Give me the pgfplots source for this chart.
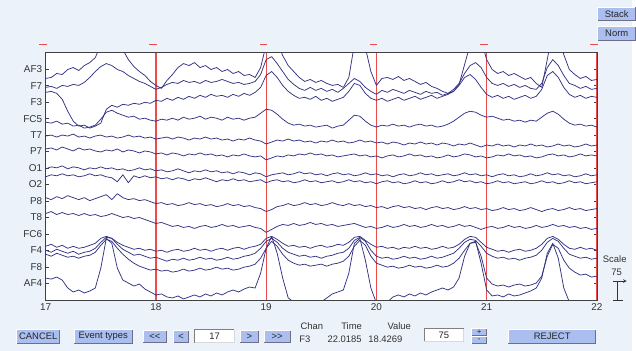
\documentclass[border=0pt]{standalone}
\usepackage{pgfplots}
\pgfplotsset{compat=1.18}
\usepackage{pgfplotstable}
\usepackage{fontspec}
\setmainfont{Liberation Sans}
\definecolor{bg}{RGB}{235,242,250}
\definecolor{btnfill}{RGB}{170,190,240}
\definecolor{btnshade}{RGB}{110,110,135}
\definecolor{trace}{RGB}{50,50,130}
\definecolor{evred}{RGB}{235,75,75}
\newcommand\uifont{\fontsize{9.5}{11}\selectfont}

% pixel-row positions of each channel, sampled every 0.05 s from 17 s to 22 s
\pgfplotstableread[row sep=\\]{v\\79\\78\\74\\75\\70\\68\\71\\66\\63\\58\\45\\32\\28\\38\\50\\60\\67\\72\\76\\82\\86\\89\\81\\75\\68\\64\\66\\63\\68\\66\\70\\68\\72\\70\\74\\72\\76\\75\\78\\68\\45\\30\\42\\56\\66\\72\\78\\82\\80\\83\\81\\84\\86\\85\\88\\78\\45\\30\\48\\72\\86\\79\\78\\80\\77\\81\\79\\82\\85\\83\\87\\89\\92\\94\\92\\85\\65\\45\\30\\40\\60\\70\\74\\72\\76\\74\\77\\80\\78\\84\\88\\60\\30\\35\\55\\70\\75\\79\\77\\81\\80\\}\tAFthree
\pgfplotstableread[row sep=\\]{v\\88\\87\\89\\86\\87\\85\\86\\83\\78\\72\\67\\64\\66\\70\\72\\76\\79\\82\\84\\87\\90\\88\\85\\83\\84\\81\\83\\82\\84\\81\\83\\82\\80\\82\\84\\83\\85\\84\\82\\75\\60\\57\\64\\72\\80\\85\\89\\91\\88\\91\\89\\92\\90\\93\\89\\84\\79\\82\\88\\92\\95\\91\\93\\90\\92\\94\\91\\93\\95\\92\\94\\93\\96\\94\\90\\84\\74\\66\\63\\68\\78\\84\\86\\84\\87\\85\\88\\86\\89\\90\\84\\68\\60\\66\\76\\84\\86\\89\\87\\90\\89\\}\tFseven
\pgfplotstableread[row sep=\\]{v\\93\\92\\94\\100\\112\\122\\127\\126\\129\\127\\124\\110\\106\\108\\105\\106\\104\\105\\103\\104\\101\\102\\99\\101\\98\\100\\97\\99\\96\\98\\95\\97\\96\\98\\95\\97\\94\\96\\93\\88\\76\\72\\78\\86\\92\\96\\99\\98\\100\\97\\101\\99\\102\\100\\98\\92\\84\\86\\94\\99\\101\\99\\102\\100\\98\\101\\99\\97\\100\\98\\96\\99\\97\\95\\92\\86\\78\\75\\80\\88\\95\\98\\96\\99\\97\\100\\98\\96\\99\\97\\90\\76\\72\\78\\88\\95\\98\\96\\99\\97\\98\\}\tFthree
\pgfplotstableread[row sep=\\]{v\\123\\124\\122\\125\\124\\127\\126\\129\\128\\126\\120\\113\\111\\114\\116\\118\\117\\120\\119\\121\\122\\120\\121\\119\\121\\118\\120\\119\\117\\120\\118\\119\\121\\118\\120\\119\\121\\119\\118\\114\\110\\111\\115\\120\\124\\126\\125\\127\\126\\128\\127\\126\\129\\127\\126\\121\\116\\117\\122\\126\\128\\126\\127\\125\\127\\126\\128\\126\\125\\127\\126\\128\\127\\125\\122\\118\\114\\112\\113\\116\\118\\117\\119\\121\\120\\122\\121\\123\\121\\122\\118\\114\\112\\115\\120\\124\\126\\125\\127\\126\\128\\}\tFCfive
\pgfplotstableread[row sep=\\]{v\\137\\136\\138\\136\\137\\135\\138\\137\\139\\137\\136\\138\\137\\139\\138\\136\\138\\137\\139\\138\\140\\139\\138\\140\\138\\139\\141\\139\\140\\138\\140\\139\\141\\140\\142\\140\\141\\139\\141\\142\\145\\143\\141\\142\\140\\142\\141\\143\\142\\144\\142\\143\\141\\143\\142\\144\\143\\141\\143\\142\\144\\143\\145\\143\\144\\146\\144\\145\\143\\145\\144\\146\\144\\145\\147\\145\\146\\144\\146\\148\\146\\147\\145\\147\\146\\148\\146\\147\\145\\147\\146\\148\\147\\145\\147\\146\\148\\147\\145\\147\\146\\}\tTseven
\pgfplotstableread[row sep=\\]{v\\150\\149\\151\\148\\150\\152\\149\\151\\150\\152\\153\\151\\152\\150\\153\\151\\152\\154\\152\\153\\155\\154\\156\\154\\155\\157\\155\\156\\154\\156\\155\\157\\156\\158\\156\\157\\155\\157\\158\\157\\161\\159\\157\\158\\156\\157\\155\\156\\154\\156\\155\\157\\156\\158\\157\\156\\155\\157\\156\\158\\157\\159\\157\\156\\158\\157\\155\\157\\156\\158\\157\\159\\158\\156\\158\\157\\155\\156\\158\\157\\159\\158\\156\\157\\155\\157\\156\\158\\157\\159\\158\\156\\155\\157\\156\\158\\157\\155\\157\\156\\157\\}\tPseven
\pgfplotstableread[row sep=\\]{v\\170\\168\\169\\167\\170\\168\\169\\171\\169\\170\\168\\170\\169\\171\\170\\172\\171\\169\\171\\170\\172\\171\\173\\172\\170\\172\\174\\172\\173\\171\\173\\172\\174\\173\\175\\173\\174\\176\\174\\175\\178\\176\\175\\174\\176\\175\\173\\175\\174\\176\\175\\177\\175\\174\\176\\175\\177\\176\\174\\176\\175\\177\\176\\178\\176\\175\\177\\176\\174\\176\\175\\177\\176\\175\\177\\176\\174\\176\\175\\177\\176\\178\\176\\175\\177\\176\\178\\177\\175\\177\\176\\174\\176\\175\\177\\176\\178\\177\\175\\177\\176\\}\tOone
\pgfplotstableread[row sep=\\]{v\\178\\176\\177\\175\\177\\176\\178\\177\\175\\177\\176\\178\\179\\183\\176\\184\\177\\179\\177\\179\\178\\180\\179\\181\\179\\180\\182\\180\\181\\179\\181\\183\\181\\182\\180\\182\\181\\183\\182\\181\\184\\182\\181\\183\\182\\184\\183\\181\\183\\182\\184\\183\\182\\184\\183\\181\\183\\182\\184\\183\\185\\183\\182\\184\\183\\185\\184\\182\\184\\183\\185\\184\\182\\184\\183\\181\\183\\182\\184\\183\\185\\184\\182\\184\\183\\185\\184\\183\\185\\184\\182\\184\\183\\185\\184\\182\\184\\183\\185\\184\\183\\}\tOtwo
\pgfplotstableread[row sep=\\]{v\\199\\201\\198\\200\\197\\199\\201\\199\\202\\200\\198\\196\\201\\195\\199\\201\\200\\202\\201\\203\\205\\204\\206\\205\\207\\206\\204\\206\\205\\207\\206\\208\\207\\205\\207\\206\\208\\207\\209\\210\\213\\211\\208\\207\\205\\207\\206\\204\\206\\205\\207\\206\\204\\206\\207\\205\\207\\206\\208\\207\\209\\208\\210\\208\\207\\209\\208\\210\\209\\211\\209\\208\\210\\209\\211\\210\\208\\210\\209\\211\\210\\212\\211\\209\\211\\210\\212\\211\\209\\211\\213\\211\\210\\212\\211\\209\\211\\210\\212\\211\\210\\}\tPeight
\pgfplotstableread[row sep=\\]{v\\215\\213\\216\\214\\216\\215\\217\\215\\217\\216\\218\\217\\215\\217\\219\\218\\220\\219\\221\\223\\225\\224\\226\\228\\227\\229\\228\\230\\228\\227\\229\\228\\226\\228\\227\\229\\228\\227\\229\\230\\234\\231\\228\\226\\227\\225\\227\\226\\224\\226\\225\\227\\226\\228\\227\\226\\225\\227\\229\\228\\230\\229\\227\\229\\228\\226\\228\\227\\229\\228\\226\\228\\227\\229\\228\\226\\228\\227\\229\\231\\229\\228\\230\\229\\227\\229\\228\\230\\229\\227\\229\\228\\226\\228\\227\\229\\228\\230\\229\\231\\230\\}\tTeight
\pgfplotstableread[row sep=\\]{v\\248\\246\\249\\247\\250\\248\\250\\249\\247\\245\\240\\238\\240\\244\\247\\249\\251\\250\\252\\251\\253\\252\\254\\252\\251\\253\\252\\250\\252\\251\\253\\251\\250\\252\\250\\249\\251\\249\\248\\246\\240\\238\\241\\245\\248\\247\\249\\248\\250\\248\\247\\249\\248\\246\\247\\244\\239\\238\\242\\246\\249\\248\\250\\249\\251\\249\\250\\248\\250\\249\\251\\250\\248\\250\\249\\246\\241\\238\\239\\244\\249\\251\\253\\252\\254\\252\\251\\253\\252\\250\\246\\240\\238\\241\\246\\250\\251\\249\\251\\250\\252\\}\tFCsix
\pgfplotstableread[row sep=\\]{v\\252\\254\\251\\253\\255\\253\\256\\254\\253\\250\\244\\239\\240\\246\\251\\254\\257\\256\\258\\260\\259\\261\\263\\261\\262\\260\\262\\261\\259\\261\\260\\262\\261\\259\\261\\260\\258\\257\\255\\250\\243\\240\\244\\250\\254\\256\\258\\257\\259\\258\\260\\258\\257\\255\\254\\250\\242\\239\\243\\252\\258\\260\\259\\261\\260\\258\\260\\259\\261\\260\\258\\260\\259\\257\\255\\250\\244\\241\\242\\248\\255\\258\\260\\259\\261\\260\\262\\260\\259\\257\\252\\244\\240\\243\\250\\256\\258\\260\\259\\261\\260\\}\tFfour
\pgfplotstableread[row sep=\\]{v\\256\\258\\255\\257\\259\\258\\260\\258\\257\\254\\247\\241\\243\\250\\256\\261\\265\\268\\270\\272\\271\\273\\272\\274\\273\\271\\273\\272\\270\\272\\271\\269\\271\\270\\272\\271\\269\\268\\266\\260\\250\\243\\248\\256\\262\\265\\267\\266\\268\\267\\266\\268\\266\\265\\263\\258\\248\\242\\247\\258\\265\\267\\269\\268\\270\\269\\267\\269\\268\\270\\269\\267\\269\\268\\265\\260\\252\\245\\244\\258\\280\\286\\288\\287\\289\\287\\286\\288\\287\\285\\278\\258\\246\\250\\262\\270\\274\\277\\276\\279\\278\\}\tFeight
\pgfplotstableread[row sep=\\]{v\\280\\281\\279\\282\\290\\294\\292\\295\\293\\290\\270\\240\\245\\270\\282\\285\\288\\286\\291\\294\\297\\296\\299\\300\\298\\301\\299\\297\\299\\296\\298\\295\\297\\294\\292\\294\\291\\289\\290\\275\\250\\238\\255\\280\\300\\304\\305\\305\\304\\305\\304\\300\\296\\294\\292\\275\\245\\240\\262\\290\\305\\305\\304\\299\\297\\299\\296\\298\\295\\297\\294\\292\\290\\292\\289\\280\\258\\245\\243\\265\\292\\298\\297\\299\\296\\298\\297\\295\\293\\290\\280\\255\\245\\260\\290\\304\\305\\304\\305\\305\\304\\}\tAFfour

\newcommand{\btn}[5]{% x1 y1 x2 y2 text
  \fill[btnfill] (#1,-#2) rectangle (#3,-#4);
  \draw[white, line width=0.8pt] (#1,-#4) -- (#1,-#2) -- (#3,-#2);
  \draw[btnshade, line width=0.8pt] (#1,-#4) -- (#3,-#4) -- (#3,-#2);
  \node[font=\uifont, text=black!85, inner sep=0pt] at ({(#1+#3)/2},{-(#2+#4)/2}) {#5};
}
\newcommand{\ebox}[5]{% x1 y1 x2 y2 text
  \fill[white] (#1,-#2) rectangle (#3,-#4);
  \draw[gray, line width=0.6pt] (#1,-#4) -- (#1,-#2) -- (#3,-#2);
  \draw[black!15, line width=0.6pt] (#1,-#4) -- (#3,-#4) -- (#3,-#2);
  \node[font=\uifont, text=black!85, inner sep=0pt] at ({(#1+#3)/2},{-(#2+#4)/2}) {#5};
}
\pgfplotsset{
  eeg/.style={draw=trace, color=trace, line width=0.75pt, no marks, line join=round},
  evline/.style={draw=evred, color=evred, line width=1.2pt, no marks},
}

\begin{document}
\begin{tikzpicture}[x=1pt,y=1pt]
\fill[bg] (0,0) rectangle (636,-353);
\begin{axis}[
  at={(46pt,-302pt)}, anchor=south west,
  scale only axis, width=555pt, height=249pt,
  xmin=17, xmax=22, ymin=53, ymax=302, y dir=reverse,
  axis background/.style={fill=white},
  xtick={17,18,19,20,21,22},
  ytick={69.6,86.2,102.8,119.4,136,152.6,169.2,185.8,202.4,219,235.6,252.2,268.8,285.4},
  yticklabels={AF3,F7,F3,FC5,T7,P7,O1,O2,P8,T8,FC6,F4,F8,AF4},
  tick align=inside, major tick length=3pt,
  axis line style={black!75, line width=0.6pt},
  tick style={black!75, line width=0.6pt},
  ticklabel style={font=\fontsize{10}{12}\selectfont, text=black!80},
  /pgf/number format/assume math mode=true,
]
\addplot[evline] coordinates {(18,53) (18,302)};
\addplot[evline] coordinates {(19,53) (19,302)};
\addplot[evline] coordinates {(20,53) (20,302)};
\addplot[evline] coordinates {(21,53) (21,302)};
\addplot[evline, line width=1.5pt] coordinates {(22,53) (22,302)};
\addplot[eeg] table[x expr={17+0.05*\coordindex}, y=v] {\tAFthree};
\addplot[eeg] table[x expr={17+0.05*\coordindex}, y=v] {\tFseven};
\addplot[eeg] table[x expr={17+0.05*\coordindex}, y=v] {\tFthree};
\addplot[eeg] table[x expr={17+0.05*\coordindex}, y=v] {\tFCfive};
\addplot[eeg] table[x expr={17+0.05*\coordindex}, y=v] {\tTseven};
\addplot[eeg] table[x expr={17+0.05*\coordindex}, y=v] {\tPseven};
\addplot[eeg] table[x expr={17+0.05*\coordindex}, y=v] {\tOone};
\addplot[eeg] table[x expr={17+0.05*\coordindex}, y=v] {\tOtwo};
\addplot[eeg] table[x expr={17+0.05*\coordindex}, y=v] {\tPeight};
\addplot[eeg] table[x expr={17+0.05*\coordindex}, y=v] {\tTeight};
\addplot[eeg] table[x expr={17+0.05*\coordindex}, y=v] {\tFCsix};
\addplot[eeg] table[x expr={17+0.05*\coordindex}, y=v] {\tFfour};
\addplot[eeg] table[x expr={17+0.05*\coordindex}, y=v] {\tFeight};
\addplot[eeg] table[x expr={17+0.05*\coordindex}, y=v] {\tAFfour};
\end{axis}
\begin{axis}[
  at={(46pt,-302pt)}, anchor=south west,
  scale only axis, width=555pt, height=249pt,
  xmin=17, xmax=22, ymin=53, ymax=302, y dir=reverse,
  axis lines=none, xtick=\empty, ytick=\empty, clip=false,
]
\addplot[color=evred, line width=1.3pt] coordinates {(16.94,45) (17.01,45)};
\addplot[color=evred, line width=1.3pt] coordinates {(17.94,45) (18.01,45)};
\addplot[color=evred, line width=1.3pt] coordinates {(18.94,45) (19.01,45)};
\addplot[color=evred, line width=1.3pt] coordinates {(19.94,45) (20.01,45)};
\addplot[color=evred, line width=1.3pt] coordinates {(20.94,45) (21.01,45)};
\addplot[color=evred, line width=1.3pt] coordinates {(21.94,45) (22.01,45)};
\end{axis}
% top-right buttons
\btn{602}{7}{640}{21}{Stack}
\btn{602}{27}{640}{41}{Norm}
% scale
\node[font=\uifont, text=black!80] at (619,-261) {Scale};
\node[font=\uifont, text=black!80] at (621,-274) {75};
\draw[black!80, line width=0.6pt] (622,-283) -- (622,-302);
\draw[black!80, line width=0.6pt] (617,-302) -- (627,-302);
\draw[black!80, line width=0.6pt, -stealth] (617,-283) -- (631,-283);
% bottom controls
\btn{17}{332}{60}{346}{CANCEL}
\btn{75}{332}{133}{346}{Event types}
\btn{144}{333}{168}{345}{<{}<}
\btn{175}{333}{190}{345}{<}
\ebox{196}{332}{236}{345}{17}
\btn{242}{333}{260}{345}{>}
\btn{266}{333}{292}{345}{>{}>}
\node[font=\uifont, text=black!80] at (314,-328) {Chan};
\node[font=\uifont, text=black!80] at (354,-328) {Time};
\node[font=\uifont, text=black!80] at (402,-328) {Value};
\node[font=\uifont, text=black!80] at (307,-342) {F3};
\node[font=\uifont, text=black!80] at (347,-342) {22.0185};
\node[font=\uifont, text=black!80] at (388,-342) {18.4269};
\ebox{427}{331}{467}{344}{75}
\btn{475}{331}{490}{338}{\fontsize{8}{8}\selectfont +}
\btn{475}{339}{490}{346}{\fontsize{8}{8}\selectfont -}
\btn{512}{332}{600}{346}{REJECT}
\end{tikzpicture}
\end{document}
